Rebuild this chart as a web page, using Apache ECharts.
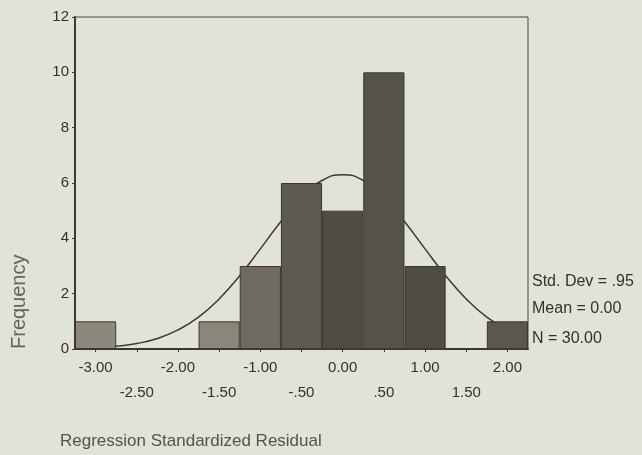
<!DOCTYPE html>
<html>
<head>
<meta charset="utf-8">
<script src="https://cdn.jsdelivr.net/npm/echarts@6/dist/echarts.min.js"></script>
<style>
html,body{margin:0;padding:0;background:#e1e2d9;}
#c{width:642px;height:455px;}
</style>
</head>
<body>
<div id="c"></div>
<script>
// Bin labels (bin centres, width 0.5)
var categories = ['-3.00','-2.50','-2.00','-1.50','-1.00','-.50','0.00','.50','1.00','1.50','2.00'];
// Frequencies
var frequencies = [1, 0, 0, 1, 3, 6, 5, 10, 3, 0, 1];
// Normal curve points (x, frequency)
var curveX = [-3.25,-3.0,-2.75,-2.5,-2.25,-2.0,-1.75,-1.5,-1.25,-1.0,-0.75,-0.5,-0.25,0,0.25,0.5,0.75,1.0,1.25,1.5,1.75,2.0,2.25];
var curveY = [0.02,0.04,0.1,0.2,0.38,0.69,1.15,1.81,2.65,3.62,4.61,5.49,6.09,6.3,6.09,5.49,4.61,3.62,2.65,1.81,1.15,0.69,0.38];
var yTicks = [0, 12, 2];
var statsText = ['Std. Dev = .95', 'Mean = 0.00', 'N = 30.00'];
var xTitle = 'Regression Standardized Residual';
var yTitle = 'Frequency';

var barColors = ['#8c887b','#8c887b','#8c887b','#8a8679','#6f6b61','#5e5a52','#4f4c46','#55524b','#4f4c46','#5a574f','#5a574f'];

var chart = echarts.init(document.getElementById('c'), null, {renderer:'canvas'});
var font = 'Liberation Sans, Arial, sans-serif';
var txt = '#34302c';
var curveData = curveX.map(function(x,i){return [x, curveY[i]];});

chart.setOption({
  backgroundColor: '#e1e2d9',
  animation: false,
  grid: {left:75, top:17, right:114, bottom:106, show:true, borderColor:'#4a4440', borderWidth:1, backgroundColor:'transparent'},
  xAxis: [{
    type:'category', data:categories,
    axisLine:{lineStyle:{color:'#3e3935', width:2}},
    axisTick:{show:true, alignWithLabel:true, length:3, lineStyle:{color:'#3e3935'}},
    axisLabel:{
      interval:0, margin:6, color:txt, fontFamily:font, fontSize:15, lineHeight:25,
      formatter:function(v, i){ return (i % 2 === 1) ? '\n' + v : v; }
    }
  },{
    type:'value', min:-3.25, max:2.25, show:false
  }],
  yAxis: {
    type:'value', min:yTicks[0], max:yTicks[1], interval:yTicks[2],
    axisLine:{show:true, onZero:false, lineStyle:{color:'#3e3935', width:2}},
    axisTick:{show:true, length:3, lineStyle:{color:'#3e3935'}},
    splitLine:{show:false},
    axisLabel:{color:txt, fontFamily:font, fontSize:15, margin:6}
  },
  series: [{
    type:'line', xAxisIndex:1, data:curveData, smooth:true, symbol:'none', z:1,
    lineStyle:{color:'#3d3833', width:1.5}
  },{
    type:'bar', data:frequencies.map(function(v,i){return {value:v, itemStyle:{color:barColors[i]}};}),
    barCategoryGap:'0%', z:2,
    itemStyle:{borderColor:'#3b3632', borderWidth:1}
  }],
  graphic: [
    {type:'text', left:532, top:274, style:{text:statsText[0], fill:txt, font:'16px '+font}},
    {type:'text', left:532, top:301, style:{text:statsText[1], fill:txt, font:'16px '+font}},
    {type:'text', left:532, top:331, style:{text:statsText[2], fill:txt, font:'16px '+font}},
    {type:'text', left:60, top:433, style:{text:xTitle, fill:'#55524c', font:'17px '+font}},
    {type:'text', x:9, y:349, rotation:Math.PI/2, style:{text:yTitle, fill:'#66635c', font:'20px '+font}}
  ]
});
</script>
</body>
</html>
